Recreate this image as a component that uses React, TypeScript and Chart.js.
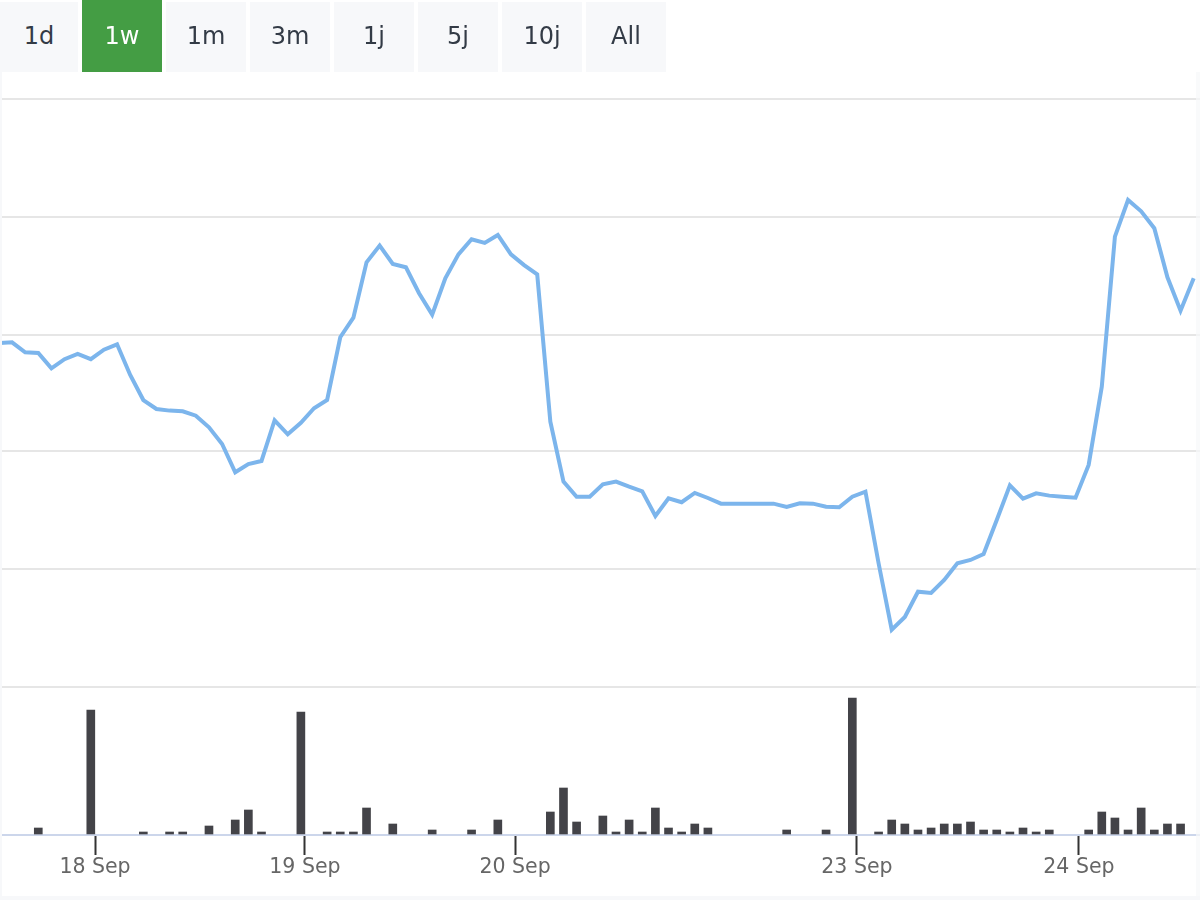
import { useEffect, useRef } from 'react';
import { Chart, registerables } from 'chart.js';

Chart.register(...registerables);

const RANGES = ['1d', '1w', '1m', '3m', '1j', '5j', '10j', 'All'];
const ACTIVE_RANGE = '1w';

const PRICE = [
  292.5, 293.1, 284.6, 284, 271, 278.7, 283.2, 278.7, 286.8, 291.4, 265.3, 244, 236.4, 235, 234.4, 230.7,
  220.8, 206.6, 182.6, 189.6, 192.2, 226.8, 214.9, 224.7, 237, 244, 297.4, 314, 361.1, 375.3, 359.7, 356.9,
  334.8, 316.6, 347.5, 367.9, 380.7, 377.6, 384.4, 367.9, 358.8, 350.9, 225.6, 174.6, 161.8, 161.8, 172.4, 174.6,
  170.3, 166.4, 145.4, 160.5, 157.1, 165, 160.7, 155.9, 155.9, 155.9, 155.9, 155.9, 153.1, 156.2, 155.9, 153.3,
  152.8, 161.8, 166.1, 105.2, 48.7, 59.5, 81, 79.9, 91, 105.2, 108, 113.1, 142, 171.5, 160.1, 164.7,
  162.7, 161.8, 161, 188.8, 255.4, 382.9, 414.1, 404.5, 390.1, 348.4, 320, 347.5,
];
const VOLUME = [
  0, 0, 0, 3, 0, 0, 0, 62, 0, 0, 0, 1, 0, 1, 1, 0,
  4, 0, 7, 12, 1, 0, 0, 61, 0, 1, 1, 1, 13, 0, 5, 0,
  0, 2, 0, 0, 2, 0, 7, 0, 0, 0, 11, 23, 6, 0, 9, 1,
  7, 1, 13, 3, 1, 5, 3, 0, 0, 0, 0, 0, 2, 0, 0, 2,
  0, 68, 0, 1, 7, 5, 2, 3, 5, 5, 6, 2, 2, 1, 3, 1,
  2, 0, 0, 2, 11, 8, 2, 13, 2, 5, 5, 0,
];
const TICK_POS = [7.32, 23.31, 39.31, 65.35, 82.26];
const TICK_LABELS = ['18 Sep', '19 Sep', '20 Sep', '23 Sep', '24 Sep'];
const GRID_VALUES = [0, 100, 200.7, 299.3, 400, 500];

export default function App() {
  const ref = useRef<HTMLCanvasElement>(null);

  useEffect(() => {
    document.body.style.margin = '0';
    if (!ref.current) return;
    const chart = new Chart(ref.current, {
      type: 'line',
      data: {
        datasets: [
          {
            type: 'line',
            data: PRICE.map((y, i) => ({ x: i, y })),
            borderColor: '#7cb5ec',
            borderWidth: 4,
            pointRadius: 0,
            tension: 0,
            yAxisID: 'y',
          },
          {
            type: 'bar',
            // empty periods get no bar at all, not a hairline
            data: VOLUME.map((y, i) => ({ x: i, y: y || null })),
            backgroundColor: '#434348',
            barThickness: 8,
            yAxisID: 'vol',
          },
        ],
      } as any,
      options: {
        animation: false,
        responsive: false,
        layout: { padding: { top: 99, left: 0, right: 0, bottom: 0 } },
        plugins: { legend: { display: false }, tooltip: { enabled: false } },
        scales: {
          x: {
            type: 'linear',
            offset: false,
            min: 0.084,
            max: 91.48,
            afterBuildTicks: (s: any) => { s.ticks = TICK_POS.map(value => ({ value })); },
            afterFit: (s: any) => { s.height = 65; },
            grid: { offset: false, drawOnChartArea: false, tickLength: 20, tickColor: '#333333', tickWidth: 2 },
            border: { color: '#ccd6eb', width: 2 },
            ticks: {
              autoSkip: false,
              maxRotation: 0,
              padding: 0,
              color: '#666666',
              font: { family: '"DejaVu Sans"', size: 20.5 },
              callback: (v: any) => TICK_LABELS[TICK_POS.indexOf(v)],
            },
          },
          y: {
            min: -125.9,
            max: 500,
            afterBuildTicks: (s: any) => { s.ticks = GRID_VALUES.map(value => ({ value })); },
            afterFit: (s: any) => { s.width = 0; },
            grid: { color: '#e6e6e6', lineWidth: 2, drawTicks: false },
            border: { display: false },
            ticks: { display: false },
          },
          // bars stand on top of the 2px axis line, half a unit above the area floor
          vol: { display: false, min: -0.5, max: 367.5 },
        },
      },
    });
    return () => chart.destroy();
  }, []);

  return (
    <div style={{ position: 'relative', width: 1200, height: 900, overflow: 'hidden', background: '#fff' }}>
      <canvas ref={ref} width={1200} height={900} style={{ position: 'absolute', left: 0, top: 0 }} />
      {RANGES.map((r, i) => {
        const on = r === ACTIVE_RANGE;
        return (
          <div
            key={r}
            style={{
              position: 'absolute',
              left: i === 0 ? 0 : -2 + i * 84,
              top: on ? 0 : 2,
              width: i === 0 ? 78 : 80,
              height: on ? 72 : 70,
              font: '24px "DejaVu Sans"',
              lineHeight: on ? '72px' : '68px',
              textAlign: 'center',
              background: on ? '#449d44' : '#f7f8fa',
              color: on ? '#ffffff' : '#333b46',
            }}
          >
            {r}
          </div>
        );
      })}
      <div style={{ position: 'absolute', left: 0, top: 72, width: 2, height: 828, background: '#f7f8fa' }} />
      <div style={{ position: 'absolute', right: 0, top: 72, width: 4, height: 828, background: 'rgba(247,248,250,.7)' }} />
      <div style={{ position: 'absolute', left: 0, bottom: 0, width: 1200, height: 4, background: '#f7f8fa' }} />
    </div>
  );
}
